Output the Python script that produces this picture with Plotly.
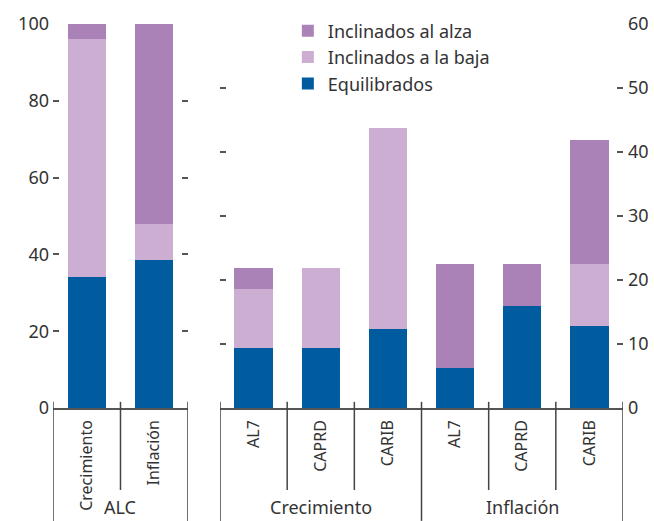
import plotly.graph_objects as go

# ==================================================
# Data
# ==================================================

series_names = ["Equilibrados", "Inclinados a la baja", "Inclinados al alza"]
series_colors = ["#005c9e", "#cdaed3", "#ab82b8"]

# Left panel (ALC, %)
alc_cats = ["Crecimiento", "Inflación"]
alc_equil = [34.1, 38.5]
alc_baja = [62.1, 9.4]
alc_alza = [3.8, 52.1]

# Right panel (subregions)
sub_groups = ["Crecimiento", "Inflación"]
sub_regions = ["AL7", "CAPRD", "CARIB", "AL7", "CAPRD", "CARIB"]
sub_equil = [9.3, 9.3, 12.4, 6.3, 16.0, 12.8]
sub_baja = [9.3, 12.6, 31.3, 0.0, 0.0, 9.7]
sub_alza = [3.3, 0.0, 0.0, 16.2, 6.5, 19.3]

left_ticks = [0, 20, 40, 60, 80, 100]
right_ticks = [0, 10, 20, 30, 40, 50, 60]

# ==================================================
# Figure
# ==================================================

FONT = "'Noto Sans', 'Open Sans', sans-serif"
TXT = "#333333"
AX = "#555555"

fig = go.Figure()

x_left = list(range(len(alc_cats)))
x_right = list(range(len(sub_regions)))

for name, color, vals in zip(series_names, series_colors, [alc_equil, alc_baja, alc_alza]):
    fig.add_trace(go.Bar(x=x_left, y=vals, name=name, marker_color=color,
                         marker_line_width=0, legendgroup=name, showlegend=False,
                         xaxis="x", yaxis="y"))

for name, color, vals in zip(series_names, series_colors, [sub_equil, sub_baja, sub_alza]):
    fig.add_trace(go.Bar(x=x_right, y=vals, name=name, marker_color=color,
                         marker_line_width=0, legendgroup=name, showlegend=True,
                         xaxis="x2", yaxis="y2"))

# category dividers below the baseline
bottom = -0.294
inner_bottom = -0.2135
top = 0.016
line = dict(color="#444444", width=1.5)
for xv in [-0.5, len(alc_cats) - 0.5]:
    fig.add_shape(type="line", xref="x", yref="paper", x0=xv, x1=xv, y0=top, y1=bottom, line=line)
for xv in [0.5]:
    fig.add_shape(type="line", xref="x", yref="paper", x0=xv, x1=xv, y0=top, y1=inner_bottom, line=line)
for i in range(len(sub_regions) + 1):
    xv = i - 0.5
    yb = bottom if i % 3 == 0 else inner_bottom
    fig.add_shape(type="line", xref="x2", yref="paper", x0=xv, x1=xv, y0=top, y1=yb, line=line)

# group labels
label_y = -0.294
fig.add_annotation(text="ALC", xref="x", yref="paper", x=0.5, y=label_y, yanchor="bottom",
                   showarrow=False, font=dict(size=18, color=TXT, family=FONT))
for k, g in enumerate(sub_groups):
    fig.add_annotation(text=g, xref="x2", yref="paper", x=3 * k + 1, y=label_y, yanchor="bottom",
                       showarrow=False, font=dict(size=18, color=TXT, family=FONT))

fig.update_layout(
    barmode="stack",
    bargap=0.43,
    width=654,
    height=521,
    margin=dict(l=53, r=31, t=24, b=113),
    plot_bgcolor="white",
    paper_bgcolor="white",
    font=dict(family=FONT, color=TXT, size=18),
    legend=dict(x=0.412, y=1.03, xanchor="left", yanchor="top", traceorder="reversed",
                font=dict(size=18, color=TXT), itemwidth=30, tracegroupgap=0,
                bgcolor="rgba(0,0,0,0)"),
    xaxis=dict(domain=[0, 0.2368], range=[-0.5, 1.5], tickvals=x_left, ticktext=alc_cats,
               tickangle=-90, showline=True, linecolor=AX, linewidth=1.5, ticks="",
               showgrid=False, zeroline=False, automargin=False, ticklabelstandoff=4,
               tickfont=dict(size=16, color=TXT)),
    yaxis=dict(range=[0, 100], tickvals=left_ticks, ticks="inside", ticklen=6, tickwidth=2,
               tickcolor=AX, mirror="ticks", showline=False, showgrid=False, zeroline=False,
               automargin=False, ticklabelstandoff=3, tickfont=dict(size=18, color=TXT)),
    xaxis2=dict(domain=[0.293, 1], range=[-0.5, 5.5], anchor="y2", tickvals=x_right,
                ticktext=sub_regions, tickangle=-90, showline=True, linecolor=AX, linewidth=1.5,
                ticks="", showgrid=False, zeroline=False, automargin=False, ticklabelstandoff=4,
                tickfont=dict(size=16, color=TXT)),
    yaxis2=dict(range=[0, 60], tickvals=right_ticks, anchor="x2", side="right", ticks="inside",
                ticklen=6, tickwidth=2, tickcolor=AX, mirror="ticks", showline=False,
                showgrid=False, zeroline=False, automargin=False, ticklabelstandoff=4,
                tickfont=dict(size=18, color=TXT)),
)

# the page has a default 8px body margin; drop it so the figure sits at the top-left
fig.write_html("out.html", config={"displayModeBar": False},
               post_script="document.body.style.margin='0';")
